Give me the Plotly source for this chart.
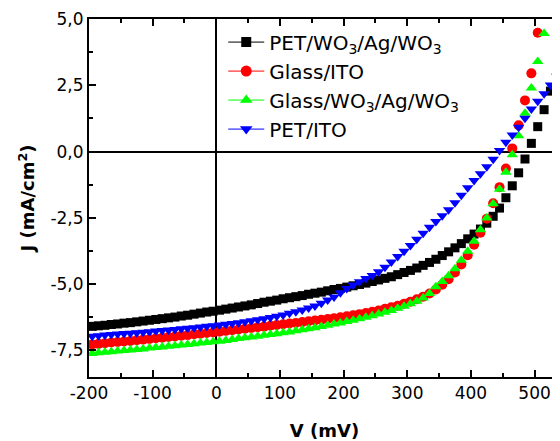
import plotly.graph_objects as go

# Voltage sweep (mV)
V = list(range(-195, 536, 10))

# Current density (mA/cm^2)
J_pet_wo3 = [-6.59, -6.57, -6.55, -6.52, -6.50, -6.47, -6.45, -6.42, -6.39, -6.36,
             -6.33, -6.30, -6.27, -6.24, -6.20, -6.17, -6.13, -6.09, -6.05, -6.02,
             -5.98, -5.94, -5.90, -5.86, -5.82, -5.78, -5.73, -5.68, -5.64, -5.60,
             -5.55, -5.51, -5.47, -5.43, -5.38, -5.34, -5.30, -5.25, -5.20, -5.16,
             -5.11, -5.06, -5.01, -4.96, -4.90, -4.84, -4.78, -4.72, -4.64, -4.56,
             -4.48, -4.39, -4.29, -4.18, -4.06, -3.92, -3.78, -3.63, -3.47, -3.29,
             -3.11, -2.92, -2.70, -2.44, -2.13, -1.74, -1.29, -0.80, -0.28, 0.31,
             0.94, 1.58, 2.28, 3.20]

J_glass_ito = [-7.27, -7.25, -7.23, -7.20, -7.18, -7.16, -7.14, -7.11, -7.09, -7.07,
               -7.04, -7.02, -6.99, -6.97, -6.94, -6.92, -6.89, -6.87, -6.84, -6.82,
               -6.79, -6.76, -6.74, -6.71, -6.68, -6.65, -6.62, -6.60, -6.57, -6.54,
               -6.51, -6.48, -6.46, -6.43, -6.40, -6.37, -6.34, -6.31, -6.28, -6.25,
               -6.21, -6.17, -6.13, -6.09, -6.04, -5.99, -5.93, -5.87, -5.81, -5.74,
               -5.66, -5.57, -5.47, -5.35, -5.20, -5.02, -4.81, -4.56, -4.26, -3.91,
               -3.51, -3.06, -2.53, -1.95, -1.34, -0.64, 0.12, 0.99, 1.93, 2.95,
               4.48, None, None, None]

J_glass_wo3 = [-7.61, -7.59, -7.57, -7.55, -7.52, -7.50, -7.48, -7.46, -7.44, -7.41,
               -7.39, -7.37, -7.34, -7.32, -7.29, -7.27, -7.25, -7.22, -7.20, -7.17,
               -7.15, -7.12, -7.09, -7.05, -7.02, -6.99, -6.96, -6.93, -6.90, -6.87,
               -6.83, -6.80, -6.76, -6.72, -6.68, -6.64, -6.60, -6.55, -6.50, -6.46,
               -6.41, -6.36, -6.30, -6.25, -6.19, -6.12, -6.06, -5.99, -5.91, -5.83,
               -5.74, -5.64, -5.52, -5.35, -5.10, -4.90, -4.68, -4.42, -4.10, -3.76,
               -3.38, -2.95, -2.50, -1.97, -1.42, -0.78, -0.12, 0.60, 1.45, 2.40,
               3.40, 4.45, None, None]

J_pet_ito = [-6.96, -6.94, -6.92, -6.90, -6.88, -6.86, -6.85, -6.83, -6.81, -6.79,
             -6.77, -6.75, -6.73, -6.71, -6.68, -6.66, -6.64, -6.61, -6.59, -6.57,
             -6.54, -6.51, -6.48, -6.45, -6.42, -6.38, -6.34, -6.30, -6.26, -6.21,
             -6.16, -6.10, -6.04, -5.97, -5.90, -5.82, -5.72, -5.60, -5.48, -5.32,
             -5.16, -5.03, -4.91, -4.79, -4.67, -4.53, -4.36, -4.16, -3.96, -3.76,
             -3.54, -3.31, -3.08, -2.85, -2.64, -2.42, -2.19, -1.93, -1.65, -1.36,
             -1.09, -0.84, -0.57, -0.29, 0.04, 0.35, 0.63, 0.92, 1.26, 1.61,
             1.90, 2.18, 2.51, 2.84]

series_names = ["PET/WO<sub>3</sub>/Ag/WO<sub>3</sub>", "Glass/ITO",
                "Glass/WO<sub>3</sub>/Ag/WO<sub>3</sub>", "PET/ITO"]
series_data = [J_pet_wo3, J_glass_ito, J_glass_wo3, J_pet_ito]
colors = ["#000000", "#FF0000", "#00FF00", "#0000FF"]
symbols = ["square", "circle", "triangle-up", "triangle-down"]
sizes = [9, 10, 10, 10]

x_ticks = [-200, -100, 0, 100, 200, 300, 400, 500]
x_ticktext = ["-200", "-100", "0", "100", "200", "300", "400", "500"]
y_ticks = [-7.5, -5.0, -2.5, 0.0, 2.5, 5.0]
y_ticktext = ["-7,5", "-5,0", "-2,5", "0,0", "2,5", "5,0"]

FONT = "DejaVu Sans, Arial, sans-serif"

fig = go.Figure()
for name, J, c, s, sz in zip(series_names, series_data, colors, symbols, sizes):
    fig.add_trace(go.Scatter(x=V, y=J, mode="markers", name=name, showlegend=False,
                             marker=dict(symbol=s, size=sz, color=c, line=dict(width=0))))
# legend entries (line + marker)
for name, c, s, sz in zip(series_names, colors, symbols, sizes):
    fig.add_trace(go.Scatter(x=[None], y=[None], mode="lines+markers", name=name,
                             line=dict(color=c, width=1),
                             marker=dict(symbol=s, size=sz + 1, color=c)))

# the page body has an 8px margin, so the figure is offset by 8px
fig.update_layout(
    width=552, height=433,
    margin=dict(l=81, r=0, t=11, b=64),
    paper_bgcolor="white", plot_bgcolor="white",
    font=dict(family=FONT, size=17, color="black"),
    showlegend=True,
    legend=dict(x=0.285, y=0.99, xanchor="left", yanchor="top",
                bgcolor="rgba(0,0,0,0)", borderwidth=0,
                font=dict(family=FONT, size=20, color="black"),
                itemwidth=36, tracegroupgap=0),
)
fig.update_xaxes(
    range=[-200, 540], tickvals=x_ticks, ticktext=x_ticktext, automargin=False,
    showline=True, linecolor="black", linewidth=2, mirror="ticks",
    ticks="inside", ticklen=7, tickwidth=1.5, tickcolor="black",
    minor=dict(dtick=50, tick0=0, ticks="inside", ticklen=4, tickwidth=1.5, tickcolor="black"),
    showgrid=False, zeroline=True, zerolinecolor="black", zerolinewidth=2,
    title=dict(text="<b>V (mV)</b>", font=dict(family=FONT, size=18), standoff=22),
    tickfont=dict(family=FONT, size=17),
)
fig.update_yaxes(
    range=[-8.5, 5.0], tickvals=y_ticks, ticktext=y_ticktext, automargin=False,
    showline=True, linecolor="black", linewidth=2, mirror=False,
    ticks="inside", ticklen=7, tickwidth=1.5, tickcolor="black",
    minor=dict(dtick=1.25, tick0=0, ticks="inside", ticklen=4, tickwidth=1.5, tickcolor="black"),
    showgrid=False, zeroline=True, zerolinecolor="black", zerolinewidth=2,
    title=dict(text="<b>J (mA/cm<sup>2</sup>)</b>", font=dict(family=FONT, size=18), standoff=11),
    tickfont=dict(family=FONT, size=17),
)

fig.write_html("out.html")
